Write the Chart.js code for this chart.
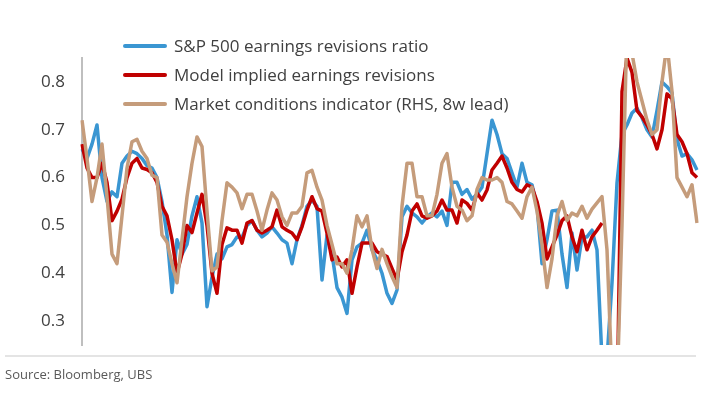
<!DOCTYPE html>
<html>
<head>
<meta charset="utf-8">
<script src="https://cdn.jsdelivr.net/npm/chart.js@4.4.0/dist/chart.umd.min.js"></script>
<style>
  html, body { margin: 0; padding: 0; background: #fff; }
  body { width: 705px; height: 397px; position: relative; overflow: hidden; font-family: "Open Sans", sans-serif; }
  #chart { position: absolute; left: 0; top: 0; }
  #legend { position: absolute; left: 123px; top: 31px; color: #404040; font-size: 17px; }
  .item { display: flex; align-items: center; height: 29px; white-space: nowrap; }
  .swatch { width: 44px; height: 4px; border-radius: 2px; margin-right: 7px; }
  #rule { position: absolute; left: 5px; top: 355px; width: 691px; height: 2px; background: #e4e4e4; }
  #source { position: absolute; left: 5px; top: 365px; font-size: 13px; color: #595959; }
</style>
</head>
<body>
<canvas id="chart" width="705" height="397"></canvas>
<div id="legend"></div>
<div id="rule"></div>
<div id="source">Source: Bloomberg, UBS</div>
<script>
const spxRevisions = [
  0.66, 0.64, 0.67, 0.71, 0.60, 0.55, 0.57, 0.56, 0.63, 0.645,
  0.655, 0.65, 0.64, 0.625, 0.62, 0.60, 0.55, 0.48, 0.36, 0.47,
  0.44, 0.46, 0.52, 0.56, 0.505, 0.33, 0.392, 0.44, 0.43, 0.455,
  0.46, 0.476, 0.475, 0.50, 0.51, 0.49, 0.476, 0.484, 0.497, 0.484,
  0.47, 0.463, 0.42, 0.47, 0.50, 0.54, 0.553, 0.54, 0.386, 0.48,
  0.44, 0.37, 0.35, 0.316, 0.428, 0.455, 0.463, 0.49, 0.449, 0.428,
  0.40, 0.358, 0.337, 0.365, 0.518, 0.54, 0.526, 0.518, 0.505, 0.518,
  0.526, 0.518, 0.53, 0.50, 0.59, 0.59, 0.565, 0.575, 0.555, 0.565,
  0.58, 0.65, 0.72, 0.69, 0.65, 0.64, 0.61, 0.58, 0.63, 0.59,
  0.585, 0.54, 0.42, 0.47, 0.53, 0.532, 0.44, 0.37, 0.484, 0.407,
  0.476, 0.476, 0.49, 0.449, 0.22, 0.22, 0.38, 0.589, 0.69, 0.71,
  0.735, 0.745, 0.725, 0.70, 0.685, 0.74, 0.80, 0.79, 0.777, 0.68,
  0.645, 0.65, 0.637, 0.616
]
const modelRevisions = [
  0.67, 0.62, 0.60, 0.60, 0.63, 0.59, 0.51, 0.53, 0.555, 0.60,
  0.63, 0.64, 0.62, 0.617, 0.61, 0.59, 0.54, 0.52, 0.47, 0.40,
  0.44, 0.50, 0.485, 0.526, 0.565, 0.50, 0.40, 0.358, 0.46, 0.495,
  0.49, 0.49, 0.463, 0.505, 0.51, 0.49, 0.484, 0.49, 0.497, 0.532,
  0.497, 0.49, 0.484, 0.47, 0.497, 0.532, 0.56, 0.535, 0.53, 0.484,
  0.428, 0.434, 0.413, 0.428, 0.358, 0.413, 0.463, 0.463, 0.463, 0.445,
  0.44, 0.435, 0.41, 0.386, 0.445, 0.48, 0.53, 0.545, 0.52, 0.515,
  0.52, 0.53, 0.553, 0.532, 0.532, 0.505, 0.553, 0.546, 0.532, 0.568,
  0.553, 0.574, 0.616, 0.63, 0.645, 0.62, 0.59, 0.575, 0.57, 0.585,
  0.58, 0.55, 0.505, 0.43, 0.455, 0.48, 0.51, 0.52, 0.476, 0.445,
  0.49, 0.449, 0.476, 0.49, 0.505, null, null, 0.10, 0.78, 0.85,
  0.82, 0.74, 0.727, 0.71, 0.69, 0.66, 0.70, 0.775, 0.765, 0.69,
  0.675, 0.65, 0.61, 0.60
]
const marketConditions = [
  0.72, 0.64, 0.55, 0.60, 0.67, 0.56, 0.44, 0.42, 0.52, 0.62,
  0.675, 0.68, 0.655, 0.64, 0.605, 0.60, 0.48, 0.465, 0.42, 0.38,
  0.47, 0.56, 0.63, 0.685, 0.665, 0.53, 0.405, 0.413, 0.51, 0.589,
  0.58, 0.568, 0.535, 0.565, 0.565, 0.53, 0.49, 0.532, 0.568, 0.553,
  0.518, 0.50, 0.526, 0.526, 0.54, 0.61, 0.615, 0.58, 0.553, 0.50,
  0.46, 0.42, 0.42, 0.40, 0.449, 0.52, 0.497, 0.52, 0.45, 0.41,
  0.45, 0.42, 0.393, 0.37, 0.54, 0.63, 0.63, 0.56, 0.56, 0.52,
  0.52, 0.565, 0.63, 0.65, 0.58, 0.54, 0.532, 0.51, 0.52, 0.575,
  0.60, 0.595, 0.595, 0.60, 0.59, 0.55, 0.545, 0.53, 0.515, 0.56,
  0.58, 0.53, 0.46, 0.37, 0.43, 0.52, 0.55, 0.51, 0.526, 0.52,
  0.54, 0.515, 0.534, 0.547, 0.56, 0.449, 0.18, 0.15, 0.50, 0.92,
  0.86, 0.80, 0.76, 0.72, 0.69, 0.70, 0.80, 0.88, 0.78, 0.60,
  0.58, 0.56, 0.585, 0.505
]
const weeks = spxRevisions.map((_, i) => i + 1)
const yTicks = [0.3, 0.4, 0.5, 0.6, 0.7, 0.8]

const series = [
  { label: "S&P 500 earnings revisions ratio", data: spxRevisions, color: "#3a96d2", order: 2 },
  { label: "Model implied earnings revisions", data: modelRevisions, color: "#c00000", order: 1 },
  { label: "Market conditions indicator (RHS, 8w lead)", data: marketConditions, color: "#c59c7b", order: 0 },
]

// legend as plain html, stacked like the original
document.getElementById("legend").innerHTML = series
  .map((s) => `<div class="item"><span class="swatch" style="background:${s.color}"></span>${s.label}</div>`)
  .join("")

new Chart(document.getElementById("chart"), {
  type: "line",
  data: {
    labels: weeks,
    datasets: series.map((s) => ({
      label: s.label,
      data: s.data,
      borderColor: s.color,
      backgroundColor: s.color,
      borderWidth: 3.5,
      pointRadius: 0,
      tension: 0,
      spanGaps: false,
      borderJoinStyle: "round",
      order: s.order,
    })),
  },
  options: {
    responsive: false,
    animation: false,
    layout: { padding: { left: 0, right: 8, top: 58, bottom: 52 } },
    plugins: { legend: { display: false }, tooltip: { enabled: false } },
    scales: {
      x: { display: false },
      y: {
        min: 0.25,
        max: 0.85,
        grid: { display: false, drawTicks: false },
        border: { display: true, color: "#bfbfbf", width: 2 },
        ticks: {
          color: "#404040",
          padding: 17,
          font: { family: "Open Sans", size: 17 },
          callback: (v) => v.toFixed(1),
        },
        afterBuildTicks: (axis) => {
          axis.ticks = yTicks.map((v) => ({ value: v }))
        },
        afterFit: (axis) => {
          axis.width = 82
        },
      },
    },
  },
})
</script>
</body>
</html>
